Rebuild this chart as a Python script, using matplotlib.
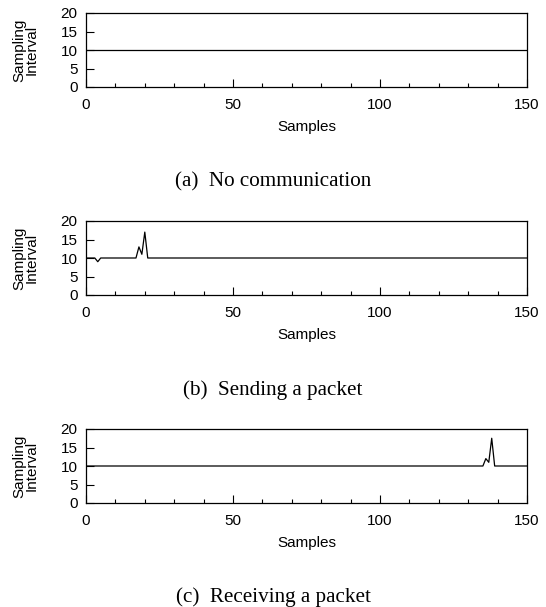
import numpy as np
import matplotlib.pyplot as plt

# sampling interval per sample
samples = np.arange(0, 151)

base = 10.0
# (a) no communication: flat
interval_a = [base] * 151

# (b) sending a packet: small dip then a double spike
interval_b = [base] * 151
spikes_b = {4: 9.0, 18: 13.0, 19: 11.0, 20: 17.0}
for k, v in spikes_b.items():
    interval_b[k] = v

# (c) receiving a packet: double spike near the end
interval_c = [base] * 151
spikes_c = {136: 12.0, 137: 11.0, 138: 17.5}
for k, v in spikes_c.items():
    interval_c[k] = v

captions = ['(a)  No communication', '(b)  Sending a packet', '(c)  Receiving a packet']
series = [interval_a, interval_b, interval_c]
x_ticks = [0, 50, 100, 150]
y_ticks = [0, 5, 10, 15, 20]

plt.rcParams['font.family'] = ['Liberation Sans', 'DejaVu Sans']

fig = plt.figure(figsize=(5.46, 6.07), dpi=100)

left = 86 / 546
width = (527 - 86) / 546
height = 74 / 607
bottoms = [1 - 87 / 607, 1 - 295 / 607, 1 - 503 / 607]
caption_y = [1 - 182 / 607, 1 - 390 / 607, 1 - 597 / 607]

for vals, cap, b, cy in zip(series, captions, bottoms, caption_y):
    ax = fig.add_axes([left, b, width, height])
    ax.plot(samples, vals, color='black', lw=0.9)
    ax.set_xlim(0, 150)
    ax.set_ylim(0, 20)
    ax.set_xticks(x_ticks)
    ax.set_xticks(np.arange(10, 150, 10), minor=True)
    ax.set_yticks(y_ticks)
    ax.tick_params(axis='both', which='major', direction='in', length=6,
                   width=0.8, labelsize=11, pad=6)
    ax.tick_params(axis='x', which='major', pad=8)
    ax.tick_params(axis='x', which='minor', direction='in', length=3, width=0.8)
    ax.tick_params(axis='y', which='minor', left=False)
    for s in ax.spines.values():
        s.set_linewidth(0.9)
    ax.set_xlabel('Samples', fontsize=11, labelpad=6)
    ax.set_ylabel('Sampling\nInterval', fontsize=11, labelpad=16, linespacing=0.85)
    fig.text(0.5, cy, cap, ha='center', va='center', fontsize=15.2,
             family='Liberation Serif')

fig.savefig('out.png', dpi=100)
